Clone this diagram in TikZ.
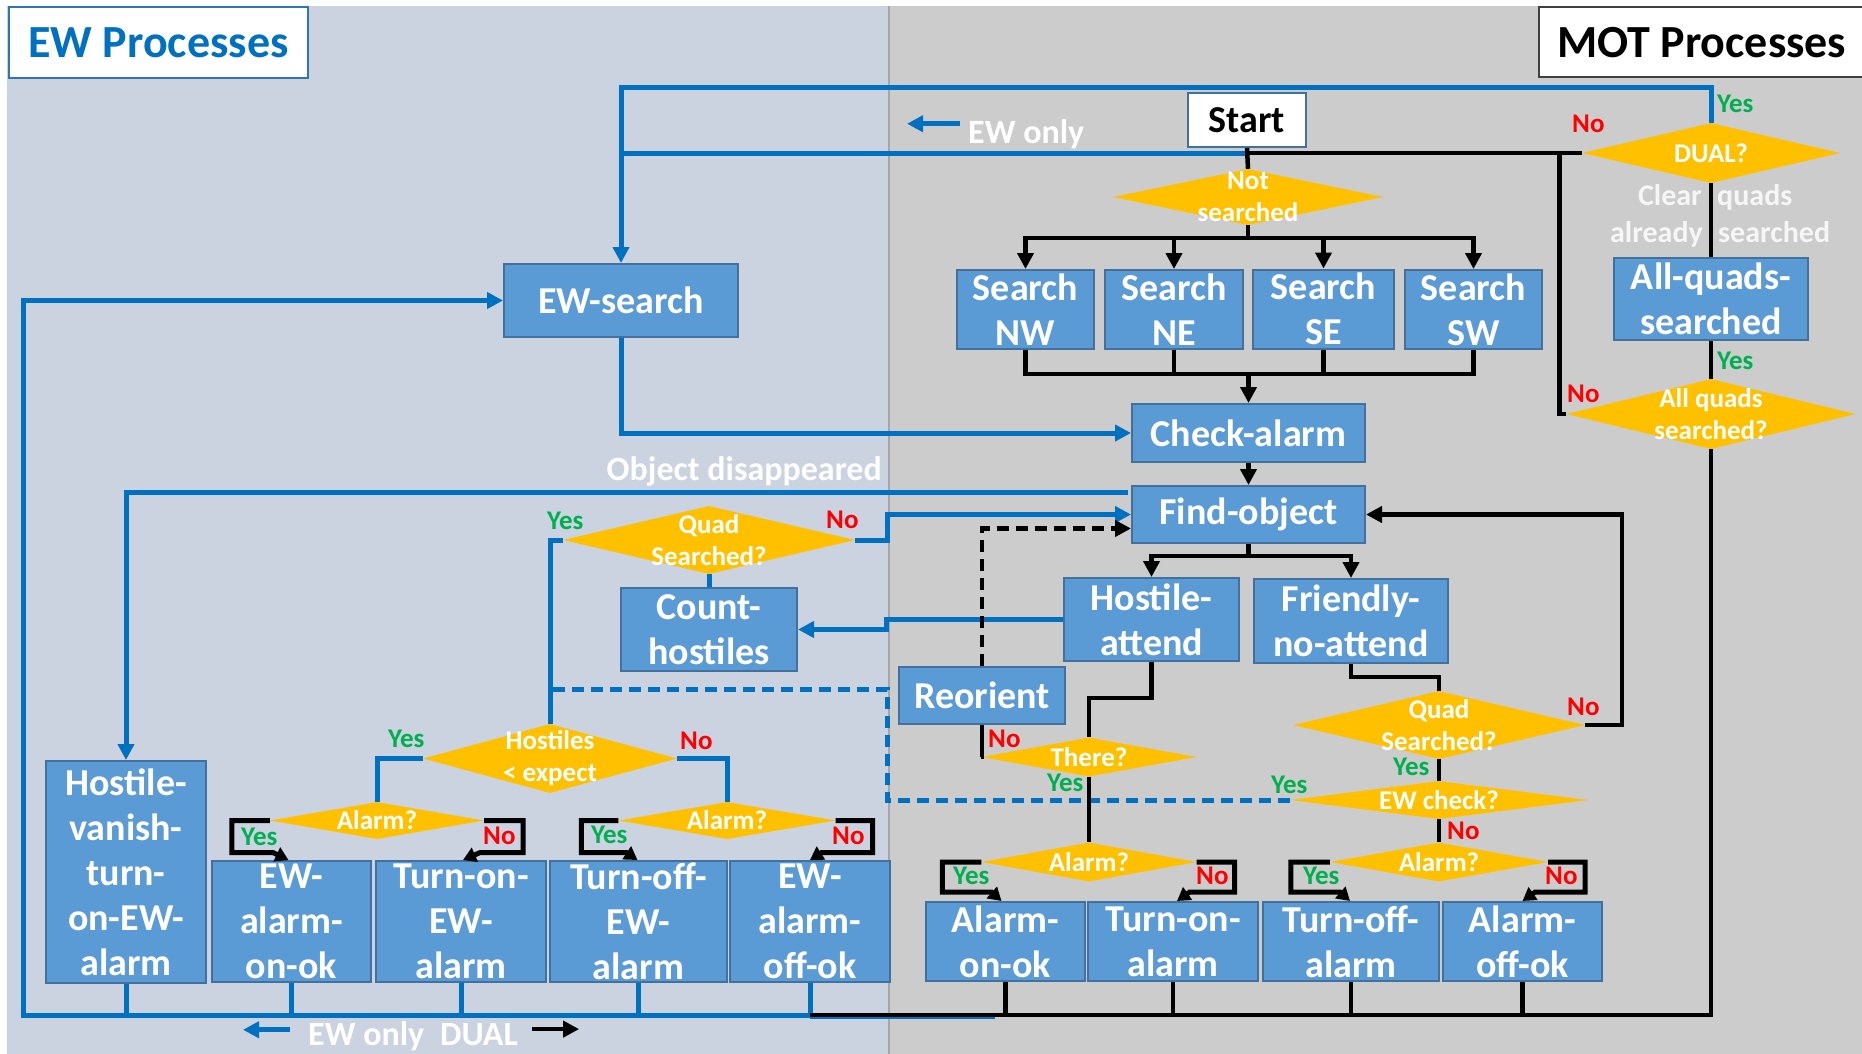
\documentclass[tikz,border=0pt]{standalone}
\usepackage{fontspec}
\setmainfont{Carlito}
\usetikzlibrary{arrows.meta,shapes.geometric,calc}
\definecolor{ewbg}{RGB}{203,210,224}
\definecolor{motbg}{RGB}{204,204,204}
\definecolor{boxfill}{RGB}{91,155,213}
\definecolor{boxline}{RGB}{65,113,156}
\definecolor{dia}{RGB}{255,192,0}
\definecolor{ewblue}{RGB}{0,112,192}
\definecolor{titleblue}{RGB}{46,117,182}
\definecolor{yesgreen}{RGB}{0,176,80}
\definecolor{nored}{RGB}{255,0,0}
\definecolor{ghost}{RGB}{246,246,246}
\definecolor{divider}{RGB}{166,166,166}
\newcommand{\ProcBox}[6]{%
  \node[pbox, minimum width=#4pt, minimum height=#5pt] (#1) at (#2,#3) {};
  \node[pboxtext] (#1-t) at (#1) {#6};}
\newcommand{\DecBox}[6]{%
  \node[dbox, minimum width=#4pt, minimum height=#5pt] (#1) at (#2,#3) {};
  \node[dboxtext] (#1-t) at (#1) {#6};}
\newcommand{\YesL}[3]{\node[yeslab] (#1) at (#2,#3) {Yes};}
\newcommand{\NoL}[3]{\node[nolab] (#1) at (#2,#3) {No};}
\begin{document}
\begin{tikzpicture}[x=1pt,y=-1pt,
  pbox/.style={rectangle, draw=boxline, line width=2pt, fill=boxfill, inner sep=0pt},
  pboxtext/.style={text=white, font=\fontsize{38}{45}\selectfont\bfseries, align=center, inner sep=0pt},
  dbox/.style={diamond, fill=dia, inner sep=0pt},
  dboxtext/.style={text=white, font=\fontsize{27}{32}\selectfont\bfseries, align=center, inner sep=0pt},
  yeslab/.style={text=yesgreen, font=\fontsize{27}{30}\selectfont\bfseries, anchor=base west, inner sep=0pt},
  nolab/.style={text=nored, font=\fontsize{27}{30}\selectfont\bfseries, anchor=base west, inner sep=0pt},
  ewline/.style={draw=ewblue, line width=5pt},
  ewarrow/.style={ewline, -{Triangle[length=16pt,width=16pt]}},
  ewdash/.style={ewline, dash pattern=on 12pt off 7pt},
  motline/.style={draw=black, line width=4.5pt},
  motarrow/.style={motline, -{Triangle[length=16pt,width=16pt]}},
  motdash/.style={motarrow, dash pattern=on 12pt off 7pt},
  brk/.style={draw=black, line width=5pt, -{Triangle[length=13pt,width=15pt]}},
  ghosttext/.style={text=ghost, font=\fontsize{30}{36}\selectfont\bfseries, inner sep=0pt},
  note/.style={text=white, font=\fontsize{34}{40}\selectfont\bfseries, inner sep=0pt},
]
\useasboundingbox (0,0) rectangle (1862,1054);
\fill[white] (0,0) rectangle (1862,1054);
\fill[ewbg] (7,6) rectangle (889,1054);
\fill[motbg] (889,6) rectangle (1862,1054);
\draw[divider, line width=1.5pt] (889,6) -- (889,1054);

% titles
\node[rectangle, draw=titleblue, line width=2pt, fill=white, minimum width=299pt, minimum height=71pt, inner sep=0pt] (ewtitle) at (158.5,42.5) {};
\node[text=ewblue, font=\fontsize{46}{52}\selectfont\bfseries, inner sep=0pt] (ewtitle-t) at (ewtitle) {EW Processes};
\node[rectangle, draw=black!75, line width=1.5pt, fill=white, minimum width=326pt, minimum height=70pt, inner sep=0pt] (mottitle) at (1702,42) {};
\node[text=black, font=\fontsize{46}{52}\selectfont\bfseries, inner sep=0pt, anchor=west] (mottitle-t) at (1557,43) {MOT Processes};

% start
\node[pbox, fill=white, minimum width=118pt, minimum height=54pt] (start) at (1247,120) {};
\node[pboxtext, text=black] (start-t) at (start) {Start};

% process boxes
\ProcBox{ewsearch}{621}{300.5}{234}{73}{EW-search}
\ProcBox{nw}{1025.5}{309.5}{137}{79}{Search\\NW}
\ProcBox{ne}{1174}{309.5}{138}{79}{Search\\NE}
\ProcBox{se}{1323.5}{309}{141}{79}{Search\\SE}
\ProcBox{sw}{1473.5}{309.5}{137}{79}{Search\\SW}
\ProcBox{checkalarm}{1248.5}{433}{233}{58}{Check-alarm}
\ProcBox{findobject}{1248.5}{514.5}{233}{57}{Find-object}
\ProcBox{allqbox}{1711}{299}{194}{82}{All-quads-\\searched}
\ProcBox{hostileattend}{1151.5}{619.5}{175}{83}{Hostile-\\attend}
\ProcBox{friendly}{1351}{621}{194}{84}{Friendly-\\no-attend}
\ProcBox{countho}{709}{629.5}{176}{83}{Count-\\hostiles}
\ProcBox{reorient}{982}{695.5}{166}{57}{Reorient}
\ProcBox{hvanish}{126}{872}{160}{222}{Hostile-\\vanish-\\turn-\\on-EW-\\alarm}
\ProcBox{ewaon}{291.5}{921.5}{159}{121}{EW-\\alarm-\\on-ok}
\ProcBox{turnonew}{461}{921.5}{170}{121}{Turn-on-\\EW-\\alarm}
\ProcBox{turnoffew}{638.5}{921.5}{177}{121}{Turn-off-\\EW-\\alarm}
\ProcBox{ewaoff}{810}{921.5}{160}{121}{EW-\\alarm-\\off-ok}
\ProcBox{alarmonok}{1005.5}{941.5}{159}{79}{Alarm-\\on-ok}
\ProcBox{turnon}{1173}{941.5}{170}{79}{Turn-on-\\alarm}
\ProcBox{turnoff}{1351}{941.5}{176}{79}{Turn-off-\\alarm}
\ProcBox{alarmoffok}{1522.5}{941.5}{159}{79}{Alarm-\\off-ok}

% decisions
\DecBox{notsearched}{1248}{197}{270}{56}{Not\\searched}
\DecBox{dual}{1711}{153}{258}{60}{DUAL?}
\DecBox{allq}{1711}{414}{289}{70}{All quads\\searched?}
\DecBox{ewquad}{709}{540}{292}{68}{Quad\\Searched?}
\DecBox{hostiles}{550}{758.5}{254}{69}{Hostiles\\{<} expect}
\DecBox{ewalarm1}{377}{820.5}{214}{37}{Alarm?}
\DecBox{ewalarm2}{727}{820.5}{217}{37}{Alarm?}
\DecBox{there}{1089}{757}{215}{39}{There?}
\DecBox{motalarm1}{1089}{862}{215}{39}{Alarm?}
\DecBox{motquad}{1439}{725}{292}{68}{Quad\\Searched?}
\DecBox{ewcheck}{1439}{800}{298}{38}{EW check?}
\DecBox{motalarm2}{1439}{862}{218}{39}{Alarm?}

% notes
\node[note, anchor=base west] (ewonlytop) at (968,143) {EW only};
\draw[ewarrow] ($(ewonlytop.west)+(-8,-10)$) -- ++(-53,0);
\node[note, anchor=base east] (objdis) at (882,480) {Object disappeared};
\node[note, anchor=base west] (ewonlybot) at (308,1045) {EW only};
\node[note, anchor=base west] (dualbot) at (440,1045) {DUAL};
\draw[ewarrow] ($(ewonlybot.west)+(-18,-6)$) -- ++(-47,0);
\draw[motarrow] ($(dualbot.east)+(14,-5)$) -- ++(47,0);
\node[ghosttext, anchor=base east] (clear) at (1702,205) {Clear};
\node[ghosttext, anchor=base west] (quads) at (1717,205) {quads};
\node[ghosttext, anchor=base east] (already) at (1703,242) {already};
\node[ghosttext, anchor=base west] (searchedg) at (1718,242) {searched};

% ---- blue EW connectors
\coordinate (j1) at (start.south |- dual.west);
\draw[ewline] (j1) -- (ewsearch.north |- j1);
\draw[ewarrow] (dual.north) -- ++(0,-35) -| (ewsearch.north);
\draw[ewarrow] (ewsearch.south) |- (checkalarm.west);
\coordinate (lft) at (23,1015);
\coordinate (bot) at (0,1015);
\coordinate (bsl) at (0,1016.5);
\draw[ewline] (ewaoff.south |- bsl) -- ++(185,0);
\draw[ewarrow] (ewaoff.south) |- (lft) |- (ewsearch.west);
\foreach \b in {hvanish,ewaon,turnonew,turnoffew} \draw[ewline] (\b.south) -- (\b.south |- bot);
\draw[ewarrow] ($(findobject.west)+(-3,-22)$) -| (hvanish.north);
\draw[ewarrow] (ewquad.east) -- ++(32,0) |- (findobject.west);
\draw[ewarrow] (hostileattend.west) -- ++(-177,0) |- (countho.east);
\draw[ewline] (ewquad.south) -- (countho.north);
\draw[ewline] (ewquad.west) -| (hostiles.north);
\coordinate (dv) at (887,689);
\draw[ewdash] (ewcheck.west) -| (dv) -- (hostiles.north |- dv);
\draw[ewline] (hostiles.west) -| (ewalarm1.north);
\draw[ewline] (hostiles.east) -| (ewalarm2.north);

% ---- black MOT connectors
\draw[motline] (dual.west) -- (j1);
\draw[motline] (start.south) -- (notsearched.north);
\draw[motline] (notsearched.south) -- ++(0,13) coordinate (nsbar);
\foreach \b in {nw,ne,se,sw} \draw[motarrow] (nsbar) -| (\b.north);
\coordinate (sbar) at ($(checkalarm.north)+(0,-29)$);
\foreach \b in {nw,ne,se,sw} \draw[motline] (\b.south) |- (sbar);
\draw[motarrow] (sbar) -- (checkalarm.north);
\draw[motarrow] (checkalarm.south) -- (findobject.north);
\draw[motline] (findobject.south) -- ++(0,12) coordinate (fbar);
\draw[motarrow] (fbar) -| (hostileattend.north);
\draw[motarrow] (fbar) -| (friendly.north);
\draw[motline] (hostileattend.south) -- ++(0,36) -| (there.north);
\draw[motline] (reorient.south) |- (there.west);
\draw[motline] (there.south) -- (motalarm1.north);
\draw[motdash] (reorient.north) |- ($(findobject.west)+(0,14)$);
\draw[motline] (friendly.south) -- ++(0,13) -| (motquad.north);
\draw[motarrow] (motquad.east) -- ++(37,0) |- (findobject.east);
\draw[motline] (motquad.south) -- (ewcheck.north);
\draw[motline] (ewcheck.south) -- (motalarm2.north);
\draw[motline] (dual.south) -- (allqbox.north);
\draw[motline] (allqbox.south) -- (allq.north);
\draw[motline] (allq.west) -- ++(-7,0) |- (dual.west);
\draw[motline] (allq.south) |- (ewaoff.south |- bot);
\foreach \b in {alarmonok,turnon,turnoff,alarmoffok} \draw[motline] (\b.south) -- (\b.south |- bot);

% ---- alarm brackets
\draw[brk] (ewalarm1.west) -| ++(-38,32) -- ++(41,0) -- ($(ewaon.north)+(-3,0)$);
\draw[brk] (ewalarm1.east) -| ++(39,32) -- ++(-43,0) -- ($(turnonew.north)+(2,0)$);
\draw[brk] (ewalarm2.west) -| ++(-37,32) -- ++(45,0) -- ($(turnoffew.north)+(-1,0)$);
\draw[brk] (ewalarm2.east) -| ++(37,32) -- ++(-51,0) -- (ewaoff.north);
\draw[brk] (motalarm1.west) -| ++(-39,30) -- ++(49,0) -- ($(alarmonok.north)+(-4,0)$);
\draw[brk] (motalarm1.east) -| ++(38,30) -- ++(-45,0) -- ($(turnon.north)+(4,0)$);
\draw[brk] (motalarm2.west) -| ++(-39,30) -- ++(49,0) -- ($(turnoff.north)+(-1,0)$);
\draw[brk] (motalarm2.east) -| ++(37,30) -- ++(-50,0) -- (alarmoffok.north);

% ---- yes / no labels
\YesL{y1}{1717}{113}
\NoL{n1}{1572}{132}
\YesL{y2}{1717}{369}
\NoL{n2}{1567}{402}
\YesL{y3}{547}{529}
\NoL{n3}{826}{528}
\YesL{y4}{388}{747}
\NoL{n4}{680}{749}
\YesL{y5}{241}{845}
\NoL{n5}{483}{844}
\YesL{y6}{591}{843}
\NoL{n6}{832}{844}
\NoL{n7}{988}{747}
\YesL{y7}{1047}{791}
\YesL{y8}{953}{884}
\NoL{n8}{1196}{884}
\NoL{n9}{1567}{715}
\YesL{y9}{1393}{775}
\YesL{y10}{1271}{793}
\NoL{n10}{1447}{839}
\YesL{y11}{1303}{884}
\NoL{n11}{1545}{884}
\end{tikzpicture}
\end{document}
